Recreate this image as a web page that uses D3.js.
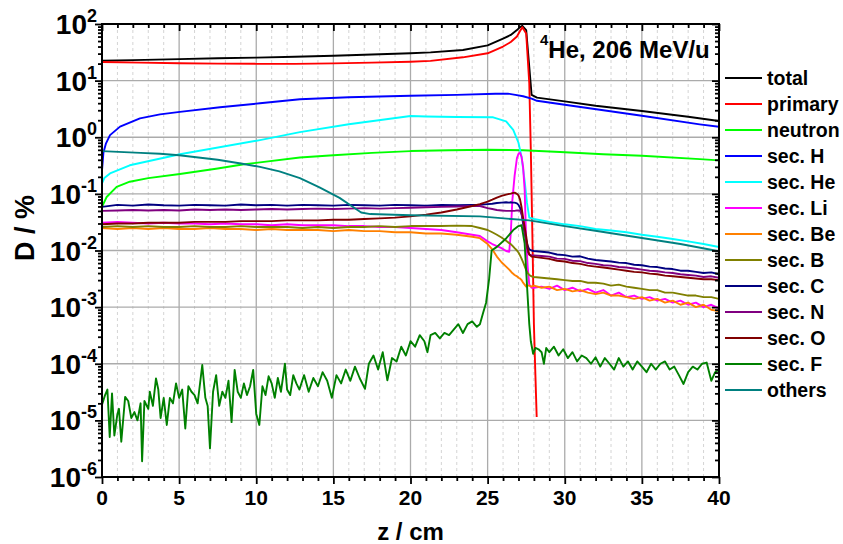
<!DOCTYPE html>
<html><head><meta charset="utf-8">
<script src="https://cdn.jsdelivr.net/npm/d3@7"></script>
<style>
body{margin:0;background:#fff}
svg text{font-family:"Liberation Sans",Arial,Helvetica,sans-serif;font-weight:bold;fill:#000}
</style>
</head><body>
<svg id="chart" width="843" height="544"></svg>
<script>
// ---------------- data ----------------
const xTicks = [0,5,10,15,20,25,30,35,40];
const yTicks = [1e-6,1e-5,1e-4,1e-3,1e-2,1e-1,1e0,1e1,1e2];
const yTickExp = ["-6","-5","-4","-3","-2","-1","0","1","2"];
const seriesNames = ["total","primary","neutron","sec. H","sec. He","sec. Li","sec. Be","sec. B","sec. C","sec. N","sec. O","sec. F","others"];
const seriesColors = ["#000000","#ff0000","#00ff00","#0000ff","#00ffff","#ff00ff","#ff8000","#808000","#000080","#800080","#800000","#008000","#008080"];

const zTotal = [0,2,5,7.5,10,12.5,15,17.5,20,21.3,23.4,25,26,26.5,26.9,27.1,27.25,27.5,27.7,27.85,28.2,30,32,35,38,40];
const total  = [22.5,23,24,24.8,25.5,26.4,27.5,29,30.5,31.6,34.7,42,55,64,78,88,93,78,17.6,5.6,5.0,4.3,3.6,2.9,2.3,1.93];

const zPrimary = [0,2.5,5,7.5,10,12.5,15,17.5,20,21.3,23.4,25,26,26.5,26.9,27.1,27.25,27.5,27.7,27.8,27.9,28,28.1,28.18];
const primary  = [21.3,20.8,20.3,20,19.8,19.8,20.2,20.8,21.6,22.3,25.8,30.4,40,48,60,75,88,68,9,0.6,0.02,5e-4,6e-5,1.15e-5];

const zNeutron = [0,0.3,0.95,1.8,3,5.05,7.5,9.1,10.24,12.83,15,17.5,20,22.5,25,27.3,29.7,32.5,35,38.76,40];
const neutron  = [0.059,0.088,0.133,0.164,0.19,0.224,0.28,0.33,0.36,0.44,0.48,0.53,0.57,0.59,0.6,0.59,0.55,0.5,0.47,0.41,0.39];

const zH = [0,0.09,0.26,0.52,1.17,2.46,3.76,5.05,7.65,10.24,12.83,16,20,23,25.5,26.3,26.8,27.3,27.85,28.2,30,35,38.75,40];
const secH = [0.26,0.53,0.78,1.09,1.54,2.16,2.53,2.8,3.38,3.98,4.7,5.1,5.4,5.6,5.85,5.9,5.6,5.3,4.8,4.4,3.75,2.4,1.69,1.53];

const zHe = [0,0.15,0.52,1.8,5.05,10.24,12.83,16,20,21,23,25.36,26.2,26.66,27,27.2,27.4,27.55,27.7,28,29,30,31,32,33,34,35,36,37,38,39,40];
const secHe = [0.153,0.19,0.23,0.32,0.5,0.89,1.23,1.7,2.37,2.32,2.28,2.25,1.9,1.35,0.8,0.45,0.17,0.07,0.038,0.036,0.032,0.029,0.027,0.024,0.0225,0.021,0.019,0.0175,0.016,0.0145,0.013,0.0115];

const zOthers = [0,2.5,3.76,5,7.5,9.1,10.24,11.5,12.83,14.1,15.4,16.3,16.8,17.4,20,24.5,27.7,30,32.3,35,37.5,40];
const others  = [0.57,0.53,0.51,0.48,0.4,0.34,0.3,0.25,0.19,0.13,0.085,0.058,0.047,0.044,0.042,0.04,0.034,0.027,0.0216,0.0166,0.013,0.0097];

// shared depth grid for the noisy secondary-fragment curves
const zSec = [0,1,2,3,4,5,6,7,8,9,10,11,12,13,14,15,16,17,18,19,20,21,22,23,24,
  24.5,25,25.3,25.6,25.9,26.2,26.4,26.5,26.6,26.75,26.9,27,27.1,27.2,27.3,27.4,27.5,27.6,27.7,27.85,28,
  28.5,29,29.5,30,30.5,31,31.5,32,32.5,33,33.5,34,34.5,35,35.5,36,36.5,37,37.5,38,38.5,39,39.5,40];

const secLi = [0.031,0.032,0.031,0.03,0.031,0.03,0.03,0.029,0.03,0.029,0.029,0.028,0.029,0.028,0.028,0.028,0.027,0.027,0.026,0.026,0.025,0.024,0.023,0.021,0.019,
  0.018,0.0145,0.013,0.012,0.011,0.0098,0.0095,0.02,0.075,0.21,0.43,0.51,0.53,0.45,0.3,0.118,0.015,0.005,0.0025,0.0022,0.0022,
  0.0023,0.0021,0.0024,0.002,0.0022,0.0019,0.0021,0.0018,0.002,0.0016,0.0018,0.0015,0.0016,0.0014,0.0015,0.0013,0.0014,0.0012,0.0013,0.0011,0.0012,0.001,0.0011,0.00095];

const secBe = [0.025,0.024,0.025,0.024,0.025,0.024,0.024,0.025,0.024,0.024,0.023,0.024,0.023,0.023,0.023,0.022,0.023,0.022,0.022,0.021,0.021,0.02,0.02,0.019,0.0175,
  0.0165,0.013,0.0105,0.0078,0.0062,0.0052,0.0046,0.0043,0.004,0.0037,0.0035,0.0033,0.0032,0.003,0.0027,0.0025,0.0023,0.0024,0.0024,0.0023,0.0024,
  0.0022,0.0023,0.002,0.0021,0.0019,0.002,0.0018,0.0017,0.0018,0.0016,0.0016,0.0015,0.0014,0.0015,0.0013,0.0014,0.0012,0.0013,0.0011,0.0012,0.001,0.0011,0.0009,0.00085];

const secB = [0.026,0.027,0.026,0.027,0.026,0.026,0.027,0.026,0.026,0.027,0.026,0.026,0.026,0.025,0.026,0.025,0.026,0.026,0.027,0.026,0.027,0.027,0.027,0.0275,0.027,
  0.025,0.023,0.021,0.019,0.017,0.0148,0.0135,0.013,0.0122,0.011,0.01,0.0092,0.0082,0.0072,0.0062,0.0053,0.0045,0.004,0.0037,0.0035,0.0034,
  0.0033,0.0032,0.0031,0.003,0.0029,0.0029,0.0027,0.0027,0.0026,0.0024,0.0025,0.0023,0.0022,0.0021,0.002,0.002,0.0018,0.0018,0.0017,0.0016,0.0016,0.0015,0.0015,0.0014];

const secC = [0.059,0.064,0.062,0.065,0.063,0.062,0.064,0.063,0.062,0.065,0.063,0.064,0.062,0.064,0.063,0.062,0.064,0.063,0.062,0.064,0.063,0.062,0.064,0.063,0.064,
  0.064,0.066,0.067,0.069,0.07,0.071,0.07,0.071,0.07,0.07,0.068,0.064,0.057,0.045,0.03,0.02,0.0155,0.012,0.0105,0.01,0.0098,
  0.0095,0.0092,0.0085,0.0083,0.0078,0.0079,0.0072,0.0068,0.0066,0.0064,0.0061,0.006,0.0056,0.0055,0.0052,0.0051,0.0048,0.0047,0.0044,0.0044,0.0042,0.004,0.0041,0.0038];

const secN = [0.05,0.051,0.052,0.051,0.052,0.051,0.053,0.052,0.053,0.052,0.053,0.054,0.053,0.054,0.055,0.054,0.055,0.056,0.055,0.056,0.057,0.058,0.059,0.06,0.061,
  0.061,0.056,0.054,0.052,0.051,0.05,0.05,0.05,0.05,0.05,0.051,0.051,0.05,0.044,0.034,0.022,0.0135,0.0095,0.0085,0.0082,0.0082,
  0.008,0.0078,0.0072,0.0071,0.0066,0.0065,0.006,0.0058,0.0055,0.0054,0.0051,0.005,0.0048,0.0046,0.0044,0.0043,0.0041,0.004,0.0038,0.0037,0.0036,0.0034,0.0035,0.0033];

const secO = [0.029,0.03,0.03,0.031,0.031,0.031,0.032,0.032,0.032,0.033,0.033,0.033,0.034,0.034,0.034,0.035,0.035,0.036,0.037,0.038,0.04,0.043,0.047,0.053,0.061,
  0.066,0.073,0.079,0.086,0.092,0.097,0.1,0.101,0.103,0.105,0.1,0.094,0.08,0.058,0.038,0.026,0.018,0.011,0.0085,0.0078,0.0077,
  0.0074,0.0071,0.0066,0.0064,0.006,0.0058,0.0054,0.0052,0.005,0.0048,0.0046,0.0044,0.0042,0.0041,0.0039,0.0038,0.0036,0.0035,0.0034,0.0033,0.0032,0.0031,0.0031,0.003];

const zF = [0,0.2,0.35,0.5,0.65,0.8,1,1.1,1.25,1.5,1.7,1.9,2.1,2.3,2.5,2.6,2.75,3,3.1,3.3,3.5,3.65,3.8,4,4.2,4.4,4.6,4.8,5,5.2,5.4,5.6,5.8,6,6.2,6.5,6.7,6.85,7,7.2,7.4,7.6,7.8,8,8.2,8.4,8.6,8.8,9,9.2,9.4,9.6,9.8,10,10.2,10.4,10.6,10.8,11,11.2,11.4,11.6,11.86,12,12.2,12.4,12.6,12.8,
  13.1,13.4,13.7,14,14.3,14.6,14.9,15.2,15.5,15.8,16.1,16.4,16.7,17.05,17.3,17.6,17.9,18.2,18.5,18.8,19.1,19.4,19.7,20,20.3,20.6,20.9,21.1,21.3,21.6,21.9,22.2,22.5,22.8,23.1,23.4,23.7,24,24.3,24.5,24.7,24.9,25.1,25.26,25.6,26.2,26.66,27,27.2,27.4,27.57,27.7,27.8,27.95,
  28.1,28.3,28.5,28.65,28.8,29,29.3,29.6,29.9,30.2,30.5,30.8,31.1,31.4,31.7,32,32.3,32.6,32.9,33.2,33.5,33.8,34.1,34.4,34.7,35,35.3,35.6,35.9,36.2,36.5,36.8,37.1,37.4,37.7,38,38.3,38.6,38.9,39.2,39.5,39.75,40];
const secF = [1.9e-5,2.8e-5,3.5e-5,5.1e-6,3.0e-5,5.4e-6,1.3e-5,1.6e-5,4.2e-6,2.6e-5,2.2e-5,1.1e-5,1.4e-5,1.0e-5,2.0e-5,1.9e-6,2.2e-5,1.6e-5,3.2e-5,1.8e-5,5.5e-5,3.5e-5,1.1e-5,2.5e-5,8.3e-6,2.5e-5,2.0e-5,4.5e-5,2.5e-5,3.5e-5,7.2e-6,4.0e-5,3.2e-5,2.8e-5,2.0e-5,9.5e-5,2.5e-5,1.8e-5,3.2e-6,3.2e-5,6.3e-5,1.8e-5,3.2e-5,2.5e-5,5.0e-5,9.3e-6,7.8e-5,3.2e-5,2.5e-5,4.5e-5,2.8e-5,4.0e-5,7.8e-5,1.3e-5,8.3e-6,4.0e-5,2.8e-5,6.0e-5,4.5e-5,2.5e-5,5.6e-5,3.2e-5,1.0e-4,3.5e-5,2.8e-5,6.3e-5,4.5e-5,3.5e-5,
  6.3e-5,3.2e-5,5.6e-5,4.0e-5,7.1e-5,5.0e-5,2.5e-5,6.3e-5,4.5e-5,7.9e-5,5.0e-5,8.9e-5,5.6e-5,3.6e-5,1.0e-4,1.4e-4,7.9e-5,1.6e-4,5.1e-5,1.26e-4,1.1e-4,2.0e-4,1.4e-4,2.5e-4,2.0e-4,3.2e-4,2.5e-4,1.6e-4,3.2e-4,3.5e-4,2.8e-4,3.5e-4,3.2e-4,4.0e-4,5.0e-4,3.5e-4,5.0e-4,5.6e-4,4.5e-4,5.0e-4,7.8e-4,1.2e-3,3.2e-3,1.0e-2,1.16e-2,1.63e-2,2.3e-2,2.7e-2,2.8e-2,1.34e-2,2.0e-3,5.0e-4,2.5e-4,1.5e-4,
  1.9e-4,1.8e-4,1.6e-4,1.0e-4,1.9e-4,1.6e-4,2.0e-4,1.4e-4,1.8e-4,1.26e-4,1.6e-4,1.1e-4,1.4e-4,1.26e-4,1.0e-4,1.3e-4,8.9e-5,1.26e-4,1.0e-4,7.9e-5,1.26e-4,8.9e-5,1.1e-4,7.9e-5,1.1e-4,8.9e-5,7.1e-5,1.0e-4,7.9e-5,1.0e-4,1.1e-4,7.9e-5,8.9e-5,6.3e-5,4.4e-5,7.1e-5,8.9e-5,7.9e-5,1.0e-4,1.05e-4,5.0e-5,7.1e-5,7.9e-5];

const seriesZ = [zTotal,zPrimary,zNeutron,zH,zHe,zSec,zSec,zSec,zSec,zSec,zSec,zF,zOthers];
const seriesV = [total,primary,neutron,secH,secHe,secLi,secBe,secB,secC,secN,secO,secF,others];

// ---------------- drawing ----------------
const svg = d3.select("#chart");
const L=102, R=719, T=24, B=477;
const x = d3.scaleLinear().domain([0,40]).range([L,R]);
const y = d3.scaleLog().domain([1e-6,1e2]).range([B,T]);

// grid
const minorX = d3.range(1,40).filter(v=>v%5!==0);
svg.append("g").selectAll("line").data(minorX).join("line")
  .attr("x1",d=>x(d)).attr("x2",d=>x(d)).attr("y1",T).attr("y2",B)
  .attr("stroke","#d4d4d4").attr("stroke-width",1).attr("stroke-dasharray","3,3");
svg.append("g").selectAll("line").data(xTicks.slice(1,-1)).join("line")
  .attr("x1",d=>x(d)).attr("x2",d=>x(d)).attr("y1",T).attr("y2",B)
  .attr("stroke","#ababab").attr("stroke-width",1.3);
svg.append("g").selectAll("line").data(yTicks.slice(1,-1)).join("line")
  .attr("x1",L).attr("x2",R).attr("y1",d=>y(d)).attr("y2",d=>y(d))
  .attr("stroke","#ababab").attr("stroke-width",1.3);

// data lines
svg.append("defs").append("clipPath").attr("id","clip").append("rect")
  .attr("x",L).attr("y",T).attr("width",R-L).attr("height",B-T);
const line = d3.line().x(d=>x(d[0])).y(d=>y(d[1]));
const gLines = svg.append("g").attr("clip-path","url(#clip)");
seriesNames.forEach((n,i)=>{
  const pts = seriesZ[i].map((z,j)=>[z,seriesV[i][j]]);
  gLines.append("path").datum(pts).attr("d",line)
    .attr("fill","none").attr("stroke",seriesColors[i]).attr("stroke-width",1.9)
    .attr("stroke-linejoin","round");
});

// axes
function styleAxis(g){
  g.select(".domain").remove();
  g.selectAll(".tick line").attr("stroke","#000").attr("stroke-width",1.8);
  g.selectAll(".tick text").remove();
}
const minorY = [];
for(let e=-6;e<2;e++) for(let k=2;k<10;k++) minorY.push(k*Math.pow(10,e));

svg.append("g").attr("transform",`translate(0,${B})`).call(d3.axisBottom(x).tickValues(xTicks).tickSize(7)).call(styleAxis);
svg.append("g").attr("transform",`translate(0,${B})`).call(d3.axisBottom(x).tickValues(minorX).tickSize(4)).call(styleAxis);
svg.append("g").attr("transform",`translate(0,${T})`).call(d3.axisTop(x).tickValues(xTicks).tickSize(-7)).call(styleAxis);
svg.append("g").attr("transform",`translate(0,${T})`).call(d3.axisTop(x).tickValues(minorX).tickSize(-4)).call(styleAxis);
svg.append("g").attr("transform",`translate(${L},0)`).call(d3.axisLeft(y).tickValues(yTicks).tickSize(7)).call(styleAxis);
svg.append("g").attr("transform",`translate(${L},0)`).call(d3.axisLeft(y).tickValues(minorY).tickSize(4)).call(styleAxis);
svg.append("g").attr("transform",`translate(${R},0)`).call(d3.axisRight(y).tickValues(yTicks).tickSize(-7)).call(styleAxis);
svg.append("g").attr("transform",`translate(${R},0)`).call(d3.axisRight(y).tickValues(minorY).tickSize(-4)).call(styleAxis);

// frame
svg.append("rect").attr("x",L).attr("y",T).attr("width",R-L).attr("height",B-T)
  .attr("fill","none").attr("stroke","#000").attr("stroke-width",2);

// tick labels
svg.append("g").selectAll("text").data(xTicks).join("text")
  .attr("x",d=>x(d)).attr("y",505).attr("text-anchor","middle")
  .attr("font-size",21).text(d=>d);
const yl = svg.append("g").selectAll("text").data(yTicks).join("text")
  .attr("x",97).attr("y",d=>y(d)+10).attr("text-anchor","end").attr("font-size",28);
yl.append("tspan").text("10");
yl.append("tspan").attr("dy",-12).attr("font-size",18).text((d,i)=>yTickExp[i]);

// axis titles
svg.append("text").attr("x",(L+R)/2).attr("y",540).attr("text-anchor","middle")
  .attr("font-size",24).text("z / cm");
svg.append("text").attr("transform","translate(34,228) rotate(-90)").attr("text-anchor","middle")
  .attr("font-size",27).text("D / %");

// annotation
const ann = svg.append("text").attr("x",540).attr("y",58).attr("font-size",24);
ann.append("tspan").attr("font-size",15).attr("dy",-13).text("4");
ann.append("tspan").attr("dy",13).text("He, 206 MeV/u");

// legend
const lg = svg.append("g");
seriesNames.forEach((n,i)=>{
  const cy = 78 + i*26;
  lg.append("line").attr("x1",725).attr("x2",762).attr("y1",cy).attr("y2",cy)
    .attr("stroke",seriesColors[i]).attr("stroke-width",2);
  lg.append("text").attr("x",767).attr("y",cy+7).attr("font-size",19.5).text(n);
});
</script>
</body></html>
